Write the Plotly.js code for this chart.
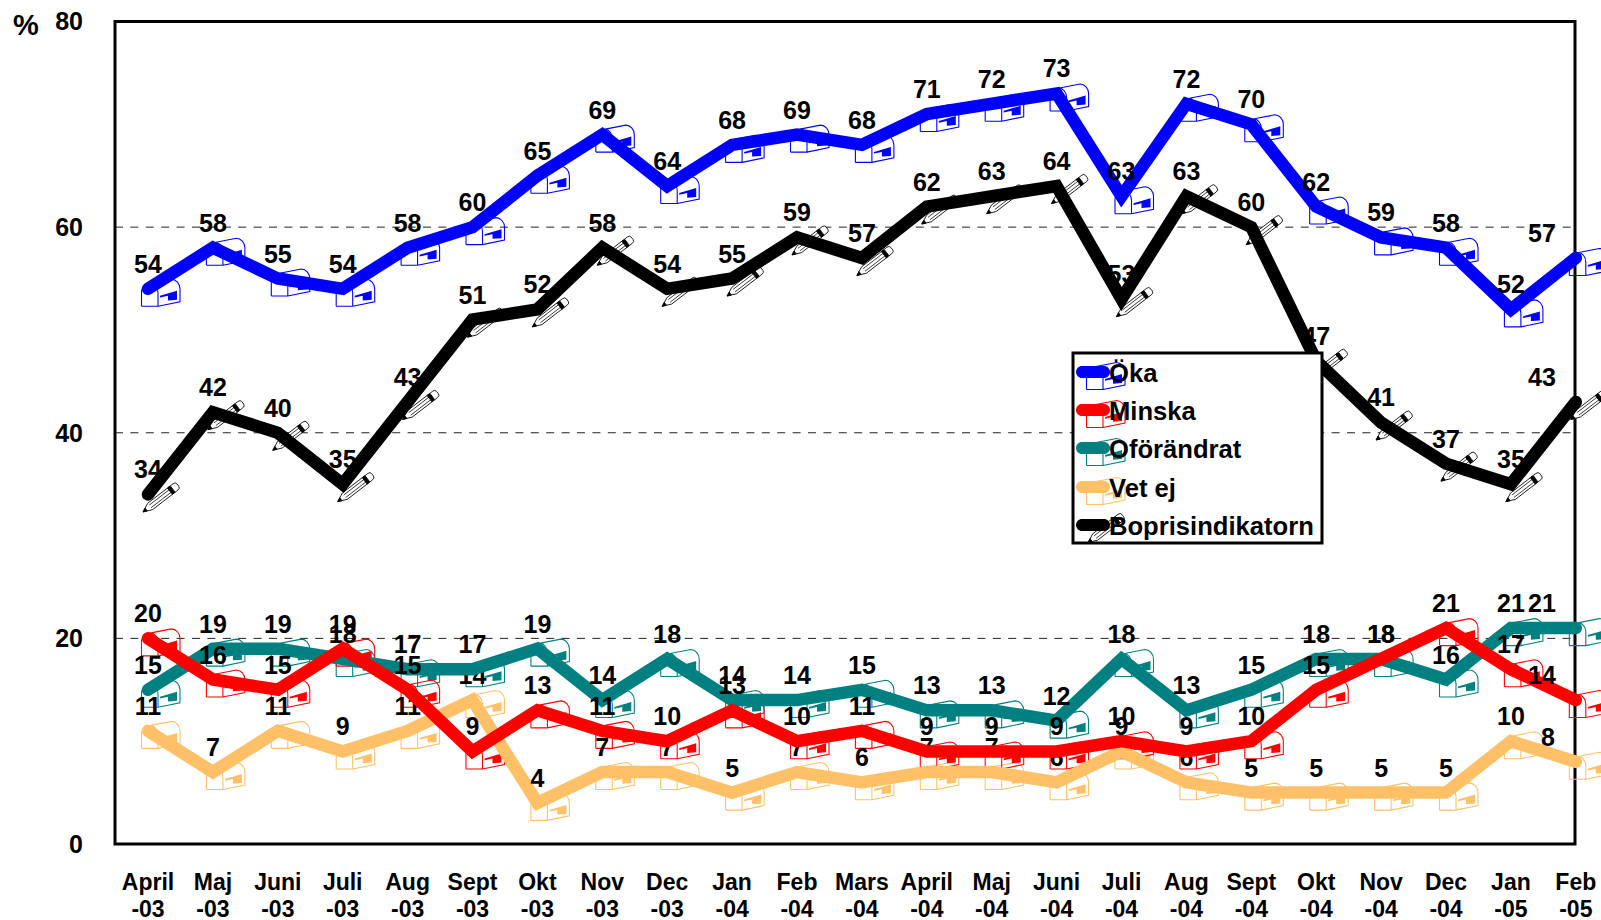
<!DOCTYPE html>
<html><head><meta charset="utf-8">
<script src="https://cdn.plot.ly/plotly-3.0.1.min.js"></script>
<style>
html,body{margin:0;padding:0;background:#fff;overflow:hidden}
#chart{width:1601px;height:920px}
.js-plotly-plot .plotly path.js-line{stroke-linecap:round}
</style></head><body><div id="chart"></div>
<script>
const monthNames=["April","Maj","Juni","Juli","Aug","Sept","Okt","Nov","Dec","Jan","Feb","Mars","April","Maj","Juni","Juli","Aug","Sept","Okt","Nov","Dec","Jan","Feb"];
const yearLabels=["-03","-03","-03","-03","-03","-03","-03","-03","-03","-04","-04","-04","-04","-04","-04","-04","-04","-04","-04","-04","-04","-05","-05"];
const oka=[54,58,55,54,58,60,65,69,64,68,69,68,71,72,73,63,72,70,62,59,58,52,57];
const minska=[20,16,15,19,15,9,13,11,10,13,10,11,9,9,9,10,9,10,15,18,21,17,14];
const oforandrat=[15,19,19,18,17,17,19,14,18,14,14,15,13,13,12,18,13,15,18,18,16,21,21];
const vetEj=[11,7,11,9,11,14,4,7,7,5,7,6,7,7,6,9,6,5,5,5,5,10,8];
const bopris=[34,42,40,35,43,51,52,58,54,55,59,57,62,63,64,53,63,60,47,41,37,35,43];
const yTicks=[0,20,40,60,80];
const legendNames=["Öka","Minska","Oförändrat","Vet ej","Boprisindikatorn"];
const BLUE="#0000ff",RED="#ff0000",TEAL="#008080",ORANGE="#ffc068";

// pixel geometry of the plot area
const W=1601,H=920,L=100,B=860,X0=148,DX=64.9,Y0=844,DY=10.28125;
const xv=p=>(p-X0)/DX, yv=p=>(Y0-p)/DY, px=p=>(p-L)/(W-L), py=p=>1-p/B;
const FONT='"Liberation Sans",Arial,sans-serif';

function mailbox(c){return `<path d="M-6.5 17.5H10V4C10 -1 6.5 -5 3 -5.5L23.5 -9.5C28 -9.5 32 -5 32 0V13L10 17.5M-6.5 17.5V2M3 -5.5C-1 -5 -6.5 -1 -6.5 2" fill="none" stroke="${c}" stroke-width="1.1"/><path d="M12 7L29 2V11L20 11.7V7L12 8.7Z" fill="${c}"/>`;}
function pencil(){return `<g transform="translate(-5,17.5) rotate(-37.6)" stroke="#000" stroke-width=".8"><path d="M0 0L9 -4H36V4H9Z" fill="#fff"/><path d="M0 0L4 -1.8V1.8Z" fill="#000"/><path d="M9 -1.6H36M9 1.6H36" fill="none" stroke-width=".7"/><rect x="34" y="-4" width="3.5" height="8" fill="#000"/><path d="M37.5 -4H41Q44 -4 44 -1.5V1.5Q44 4 41 4H37.5Z" fill="#fff"/></g>`;}
function svgUri(body){return "data:image/svg+xml;charset=utf-8,"+encodeURIComponent(`<svg xmlns="http://www.w3.org/2000/svg" width="120" height="120" viewBox="-60 -60 120 120">${body}</svg>`);}

// back-to-front, as in the reference
const series=[
 {name:legendNames[3],y:vetEj,color:ORANGE,icon:mailbox(ORANGE)},
 {name:legendNames[2],y:oforandrat,color:TEAL,icon:mailbox(TEAL)},
 {name:legendNames[1],y:minska,color:RED,icon:mailbox(RED)},
 {name:legendNames[4],y:bopris,color:"#000",icon:pencil()},
 {name:legendNames[0],y:oka,color:BLUE,icon:mailbox(BLUE)}
];
const xs=monthNames.map((_,i)=>i);
const data=series.map(s=>({type:"scatter",mode:"lines+markers+text",name:s.name,x:xs,y:s.y,
  line:{color:s.color,width:12.5,shape:"linear"},marker:{size:14,opacity:0,color:s.color},
  text:s.y.map((v,i)=>i<s.y.length-1?String(v):""),textposition:"top center",
  textfont:{family:FONT,size:25,color:"#000",weight:"bold"},cliponaxis:false,showlegend:false,hoverinfo:"x+y+name"}));
// carries the second row of the month axis
data.push({type:"scatter",mode:"none",x:xs,y:xs.map(()=>null),xaxis:"x2",showlegend:false,hoverinfo:"skip"});

const images=[],shapes=[],annotations=[];
// data icons, tied to the axes
series.forEach(s=>{const src=svgUri(s.icon);
  s.y.forEach((v,i)=>images.push({source:src,xref:"x",yref:"y",x:i,y:v,sizex:120/DX,sizey:120/DY,xanchor:"center",yanchor:"middle",sizing:"stretch",layer:"below"}));});
// gridlines and frame
[20,40,60].forEach(v=>shapes.push({type:"line",layer:"below",xref:"x",yref:"y",x0:xv(115),x1:xv(1575),y0:v,y1:v,line:{color:"#222",width:1,dash:"8px,7.4px"}}));
shapes.push({type:"rect",layer:"below",xref:"x",yref:"y",x0:xv(115),x1:xv(1575),y0:0,y1:80,line:{color:"#000",width:3},fillcolor:"rgba(0,0,0,0)"});
// last-month labels sit left of their points in the reference
const lastShift={[legendNames[0]]:-34,[legendNames[1]]:-34,[legendNames[2]]:-34,[legendNames[3]]:-28,[legendNames[4]]:-34};
series.forEach(s=>{const v=s.y[s.y.length-1];
  annotations.push({xref:"x",yref:"y",x:s.y.length-1,y:v,xshift:lastShift[s.name],yshift:25,text:String(v),showarrow:false,xanchor:"center",yanchor:"middle",font:{family:FONT,size:25,color:"#000",weight:"bold"}});});
// percent sign
annotations.push({xref:"paper",yref:"paper",x:px(26),y:py(25),text:"%",showarrow:false,xanchor:"center",yanchor:"middle",font:{family:FONT,size:29,color:"#000",weight:"bold"}});
// legend
const legX0=1073,legX1=1322,legY0=353,legY1=543,rowY=[372,410,448,487,525],legColors=[BLUE,RED,TEAL,ORANGE,"#000"];
const boxW=legX1-legX0,boxH=legY1-legY0;
images.push({source:"data:image/svg+xml;charset=utf-8,"+encodeURIComponent(`<svg xmlns="http://www.w3.org/2000/svg" width="${boxW+4}" height="${boxH+4}" viewBox="-2 -2 ${boxW+4} ${boxH+4}"><rect x="0" y="0" width="${boxW}" height="${boxH}" fill="#fff" stroke="#000" stroke-width="3"/></svg>`),
  xref:"paper",yref:"paper",x:px(legX0-2),y:py(legY0-2),sizex:(boxW+4)/(W-L),sizey:(boxH+4)/B,xanchor:"left",yanchor:"top",sizing:"stretch",layer:"above"});
legendNames.forEach((n,i)=>{const y=rowY[i],c=legColors[i];
  images.push({source:svgUri(i===4?pencil():mailbox(c)),xref:"paper",yref:"paper",x:px(1093),y:py(y),sizex:120/(W-L),sizey:120/B,xanchor:"center",yanchor:"middle",sizing:"stretch",layer:"above"});
  const a=1076,b=1110,r=6,k=3.3;
  const P=(xx,yy)=>px(xx)+","+py(yy);
  shapes.push({type:"path",layer:"above",xref:"paper",yref:"paper",line:{width:0},fillcolor:c,
   path:`M${P(a+r,y-r)} L${P(b-r,y-r)} C${P(b-r+k,y-r)} ${P(b,y-k)} ${P(b,y)} C${P(b,y+k)} ${P(b-r+k,y+r)} ${P(b-r,y+r)} L${P(a+r,y+r)} C${P(a+r-k,y+r)} ${P(a,y+k)} ${P(a,y)} C${P(a,y-k)} ${P(a+r-k,y-r)} ${P(a+r,y-r)} Z`});
  annotations.push({xref:"paper",yref:"paper",x:px(1106.5),y:py(y+1),text:n,showarrow:false,xanchor:"left",yanchor:"middle",font:{family:FONT,size:25.6,color:"#000",weight:"bold"}});
});

const tickFont={family:FONT,size:23,color:"#000",weight:"bold"};
const xRange=[xv(L),xv(W)];
const layout={width:W,height:H,margin:{l:L,r:0,t:0,b:H-B,pad:0},paper_bgcolor:"#fff",plot_bgcolor:"#fff",showlegend:false,
 font:{family:FONT,color:"#000"},
 xaxis:{range:xRange,tickmode:"array",tickvals:xs,ticktext:monthNames,showgrid:false,zeroline:false,showline:false,ticks:"",automargin:false,ticklabelstandoff:6,tickangle:0,tickfont:tickFont},
 xaxis2:{range:xRange,overlaying:"x",anchor:"y",side:"bottom",tickmode:"array",tickvals:xs,ticktext:yearLabels,showgrid:false,zeroline:false,showline:false,ticks:"",automargin:false,ticklabelstandoff:33,tickangle:0,tickfont:tickFont},
 yaxis:{range:[yv(B),yv(0)],tickmode:"array",tickvals:yTicks,ticktext:yTicks.map(String),showgrid:false,zeroline:false,showline:false,ticks:"",automargin:false,ticklabelstandoff:16,tickfont:{family:FONT,size:25,color:"#000",weight:"bold"}},
 images,shapes,annotations};
Plotly.newPlot("chart",data,layout,{displayModeBar:false,responsive:false});
</script></body></html>
